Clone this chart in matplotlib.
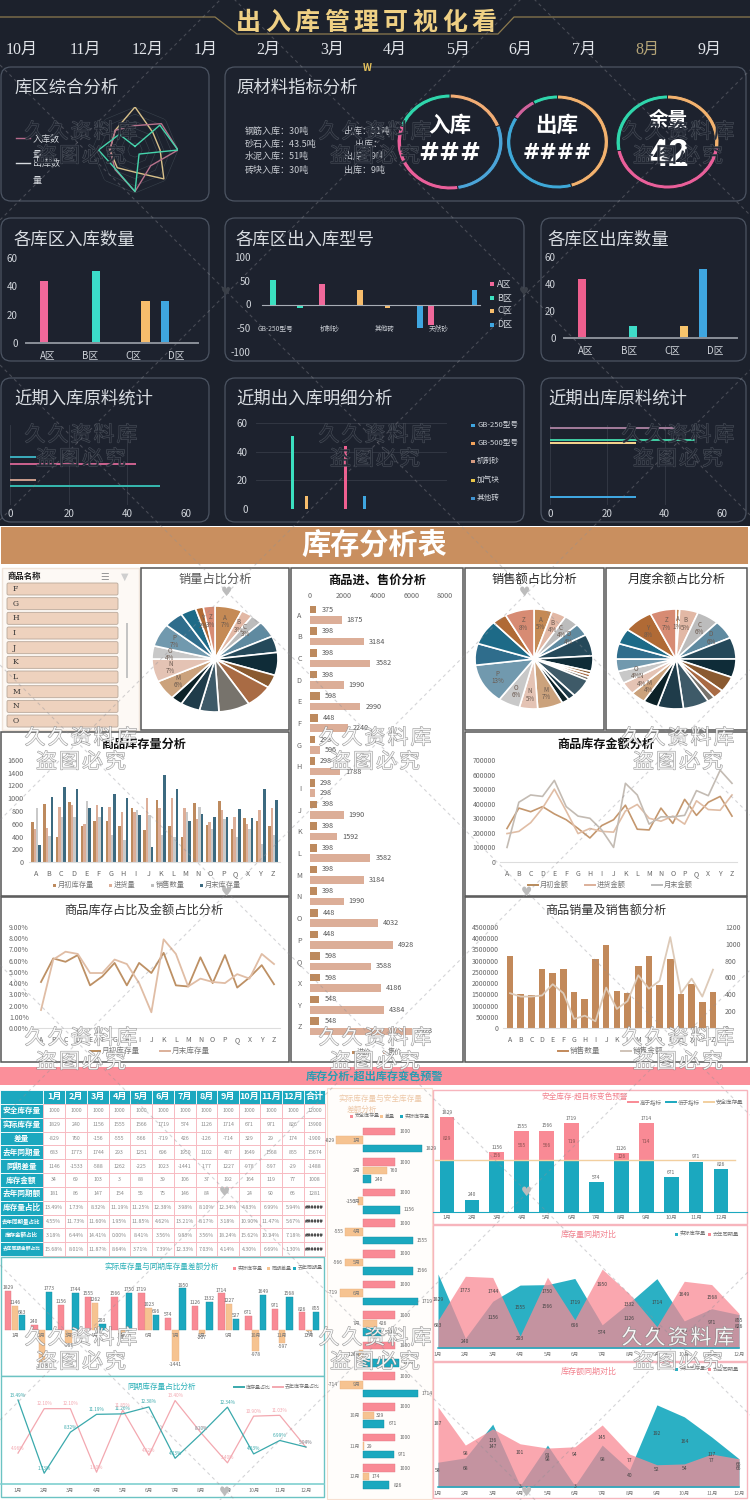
import numpy as np
import matplotlib
matplotlib.use('Agg')
import matplotlib.pyplot as plt
from matplotlib.patches import FancyBboxPatch, Rectangle
import matplotlib.patheffects as pe

plt.rcParams['font.family'] = ['Noto Sans CJK SC', 'DejaVu Sans']
plt.rcParams['axes.unicode_minus'] = False

W, H = 750, 1500
fig = plt.figure(figsize=(7.5, 15), dpi=100, facecolor='white')

# ---------------- data ----------------
months_top = ['10月', '11月', '12月', '1月', '2月', '3月', '4月', '5月', '6月', '7月', '8月', '9月']
areas = ['A区', 'B区', 'C区', 'D区']
radar_teal = [5, 49, 60, 8, 58, 38, 51, 31]
radar_tan = [60, 35, 35, 57, 31, 35, 35, 39]
radar_pink = [34, 52, 60, 31, 58, 39, 35, 39]
ring_in = [30, 43.5, 51, 30]
ring_out = [51, 43, 9, 9]
ring_left = [27, 45, 28]
area_in = [44, 51, 30, 30]
area_out = [44, 9, 9, 51]
model_labels = ['GB-250型号', '', '机制砂', '', '其他砖', '', '天然砂', '']
model_series = [1, 1, 0, 2, 2, 3, 0, 3]
model_values = [51, -8, 43, 30, -8, -50, -43, 30]
recent_in = [9, 43, 9, 51]
recent_out = [44, 51, 30, 30]
recent_detail = [51, 9, 44, 9]
detail_names = ['GB-250型号', 'GB-500型号', '机制砂', '加气块', '其他砖']

goods = list('ABCDEFGHIJKLMNOPQXYZ')
slicer_items = list('FGHIJKLMNO')
pie_sales = [7, 3, 3, 5, 5, 7, 4, 7, 8, 5, 5, 3, 6, 7, 4, 7, 5, 4, 2, 3]
pie_amount = [5, 4, 4, 4, 7, 5, 1, 1, 1, 6, 2, 2, 7, 5, 6, 13, 7, 8, 4, 8]
pie_month = [1, 5, 6, 6, 7, 6, 5, 3, 2, 7, 7, 4, 4, 4, 4, 4, 5, 5, 8, 7]
buy_price = [375, 398, 398, 398, 598, 448, 298, 298, 298, 398, 398, 398, 398, 398, 448, 448, 598, 598, 548, 548]
sell_price = [1875, 3184, 3582, 1990, 2990, 2240, 596, 1788, 298, 1990, 1592, 3582, 3184, 1990, 4032, 4928, 3588, 4186, 4384, 6028]
stock_begin = [620, 910, 400, 940, 560, 650, 640, 560, 850, 500, 980, 560, 400, 930, 580, 960, 520, 690, 640, 570]
stock_inflow = [520, 530, 860, 900, 590, 900, 860, 780, 780, 1000, 840, 1000, 840, 680, 620, 820, 710, 590, 810, 840]
stock_sold = [850, 410, 700, 700, 950, 700, 430, 340, 820, 730, 430, 400, 780, 860, 510, 680, 400, 520, 280, 420]
stock_end = [270, 1020, 1170, 1140, 850, 870, 1060, 1000, 730, 240, 1370, 1150, 640, 760, 710, 700, 830, 690, 1150, 980]
amt_begin = [230000, 370000, 345000, 380000, 330000, 290000, 230000, 165000, 250000, 290000, 390000, 225000, 220000, 370000, 265000, 430000, 320000, 410000, 450000, 315000]
amt_inflow = [195000, 210000, 270000, 370000, 500000, 350000, 195000, 230000, 210000, 205000, 350000, 395000, 300000, 280000, 315000, 260000, 420000, 360000, 355000, 460000]
amt_end = [100000, 410000, 460000, 450000, 560000, 380000, 315000, 300000, 220000, 100000, 540000, 460000, 260000, 310000, 310000, 320000, 490000, 455000, 630000, 540000]
share_begin = [4.1, 6.2, 5.9, 6.5, 3.8, 4.6, 5.8, 3.8, 5.8, 4.9, 6.7, 3.8, 3.7, 6.3, 4.0, 6.5, 3.6, 4.5, 5.6, 3.9]
share_end = [1.6, 6.1, 6.8, 6.6, 4.9, 4.9, 6.1, 5.7, 4.0, 1.4, 7.9, 6.6, 3.7, 4.4, 4.1, 4.0, 4.8, 4.4, 6.6, 5.7]
sold_qty = [860, 400, 390, 700, 650, 700, 430, 340, 820, 990, 440, 410, 740, 860, 510, 820, 400, 520, 310, 425]
sold_amt = [1550000, 1400000, 1400000, 1450000, 1950000, 1550000, 400000, 550000, 300000, 1800000, 850000, 1200000, 2350000, 1750000, 2100000, 4050000, 1550000, 2200000, 1400000, 2600000]

months = ['1月', '2月', '3月', '4月', '5月', '6月', '7月', '8月', '9月', '10月', '11月', '12月']
safe_stock = [1000] * 12
actual_stock = [1829, 240, 1156, 1555, 1566, 1719, 574, 1126, 1714, 671, 971, 826]
diff_stock = [-829, 760, -156, -555, -566, -719, 426, -126, -714, 329, 29, 174]
last_year = [683, 1773, 1744, 293, 1750, 696, 1950, 1332, 527, 1649, 1568, 855]
yoy_diff = [1146, -1533, -589, 1262, -184, 1023, -1441, -207, 1227, -978, -597, -29]
below_target = [1000, 240, 1000, 1000, 1000, 1000, 574, 1000, 1000, 671, 971, 826]
above_target = [829, 0, 156, 555, 566, 719, 0, 126, 714, 0, 0, 0]
share_now = [13.49, 1.73, 8.32, 11.19, 11.26, 12.38, 4.13, 8.10, 12.34, 4.83, 6.99, 5.94]
share_last = [4.96, 12.1, 12.1, 1.9, 11.85, 4.62, 13.4, 8.17, 3.4, 10.9, 11.03, 5.9]
money_now = [58, 68, 147, 3, 98, 3, 98, 40, 192, 164, 117, 66]
money_last = [187, 98, 136, 101, 91, 94, 145, 77, 52, 54, 77, 66]

table_head = ['', '1月', '2月', '3月', '4月', '5月', '6月', '7月', '8月', '9月', '10月', '11月', '12月', '合计']
table_rows = [
    ['安全库存量'] + ['1000'] * 12 + ['12000'],
    ['实际库存量', '1829', '240', '1156', '1555', '1566', '1719', '574', '1126', '1714', '671', '971', '826', '13900'],
    ['差量', '-829', '760', '-156', '-555', '-566', '-719', '426', '-126', '-714', '329', '29', '174', '-1900'],
    ['去年同期量', '683', '1773', '1744', '293', '1251', '696', '1950', '1102', '487', '1649', '1568', '855', '15674'],
    ['同期差量', '1146', '-1533', '-588', '1262', '-225', '1023', '-1441', '-177', '1227', '-978', '-597', '-29', '-1488'],
    ['库存金额', '34', '69', '103', '3', '88', '39', '106', '37', '192', '164', '119', '77', '1008'],
    ['去年同期额', '181', '86', '147', '154', '55', '75', '146', '84', '', '24', '90', '66', '1281'],
    ['库存量占比', '13.49%', '1.73%', '8.32%', '11.19%', '11.25%', '12.38%', '3.98%', '8.10%', '12.34%', '4.83%', '6.99%', '5.94%', '######'],
    ['去年同期量占比', '4.55%', '11.73%', '11.60%', '1.95%', '11.85%', '4.62%', '13.21%', '8.17%', '3.18%', '10.90%', '11.47%', '5.67%', '######'],
    ['库存金额占比', '3.18%', '6.44%', '14.41%', '0.00%', '8.41%', '3.56%', '9.83%', '3.56%', '18.24%', '15.62%', '10.24%', '7.18%', '######'],
    ['去年同期金额占比', '15.68%', '8.01%', '11.87%', '8.64%', '3.71%', '7.39%', '12.33%', '7.03%', '4.14%', '4.30%', '6.69%', '1.30%', '######'],
]

# ---------------- palette ----------------
DARK = '#1c212c'
FG = '#d9dde2'
PINK = '#f0689a'
GREEN = '#3be0c0'
ORANGE = '#f7bd6c'
BLUE = '#3fa6e0'
TAN = '#bd8a5e'
SKIN = '#dcae98'
GREY = '#bdbdbd'
SLATE = '#3c6a80'
TEAL = '#1ba8bf'
ROSE = '#f98a95'
APRI = '#f6c391'
PIE = ['#c58a55', '#e2b8a5', '#bcbcbc', '#5f8aa0', '#25495a', '#0f2c38', '#8a5a30', '#a96b44', '#77736c', '#3e5a68',
       '#1f3c4a', '#0c2228', '#cba27c', '#e4c3b4', '#c8c8c8', '#7199ae', '#2f6d8c', '#1d6a87', '#b06a35', '#d78b73']


def pax(x0, y0, x1, y1, **kw):
    a = fig.add_axes([x0 / W, 1 - y1 / H, (x1 - x0) / W, (y1 - y0) / H], **kw)
    a.patch.set_alpha(0)
    return a


def lim(a, b, p0, v0, p1, v1):
    k = (v1 - v0) / (p1 - p0)
    return v0 + (a - p0) * k, v0 + (b - p0) * k


def clean(a, color='#666666', size=5.5, keep=()):
    for s, sp in a.spines.items():
        sp.set_visible(s in keep)
    a.tick_params(length=0, colors=color, labelsize=size, pad=2)
    a.set_zorder(3)


bg = pax(0, 0, W, H)
bg.set_xlim(0, W)
bg.set_ylim(H, 0)
bg.axis('off')
bg.set_zorder(1)
top = pax(0, 0, W, H)
top.set_xlim(0, W)
top.set_ylim(H, 0)
top.axis('off')
top.set_zorder(10)


def spaced(a, s, cx, y, dx, **kw):
    n = len(s)
    for i, ch in enumerate(s):
        a.text(cx + (i - (n - 1) / 2) * dx, y, ch, ha='center', va='center', **kw)


def legend(items, y, size=4.5, color='#777777', kind='s'):
    for x, label, c in items:
        if kind == 's':
            top.add_patch(Rectangle((x - 5, y - 1.5), 3, 3, color=c, lw=0))
        else:
            top.plot([x - 12, x - 2], [y, y], color=c, lw=1.4)
        top.text(x, y, label, ha='left', va='center', fontsize=size, color=color)


# ---------------- backgrounds ----------------
bg.add_patch(Rectangle((0, 0), W, 526, color=DARK, lw=0))
bg.add_patch(Rectangle((1, 527), 747, 37, color='#c98f5f', lw=0))
bg.text(374, 545, '库存分析表', color='white', fontsize=21, fontweight='bold', ha='center', va='center')
for box in [(1, 67, 209, 201), (225, 67, 746, 201), (1, 218, 209, 361), (225, 218, 524, 361), (541, 218, 746, 361),
            (1, 378, 209, 522), (225, 378, 524, 522), (541, 378, 746, 522)]:
    x0, y0, x1, y1 = box
    bg.add_patch(FancyBboxPatch((x0, y0), x1 - x0, y1 - y0, boxstyle='round,pad=0,rounding_size=10',
                                fc='#1d222e', ec='#4c5462', lw=0.9))
for t, x, y in [('库区综合分析', 14, 88), ('原材料指标分析', 236, 88), ('各库区入库数量', 14, 240), ('各库区出入库型号', 236, 240),
                ('各库区出库数量', 548, 240), ('近期入库原料统计', 14, 399), ('近期出入库明细分析', 236, 399), ('近期出库原料统计', 548, 399)]:
    bg.text(x, y, t, color=FG, fontsize=12.5, ha='left', va='center')

bg.plot([0, 215, 237, 498, 514, 750], [17, 17, 34, 34, 17, 17], color='#8c7a4e', lw=0.9)
spaced(bg, '出入库管理可视化看', 366, 23, 29.5, color='#efd084', fontsize=18, fontweight='bold')
month_x = [22, 85, 148, 206, 268, 332, 395, 458, 520, 584, 647, 709]
for m, x in zip(months_top, month_x):
    bg.text(x, 50, m, color='#b5a578' if m == '8月' else '#e2e5ea', fontsize=11.5, ha='center', va='center',
            family=['Liberation Serif', 'Noto Sans CJK SC'])
bg.text(367, 68, 'W', color='#e5c25c', fontsize=7, fontweight='bold', ha='center', va='center')

# ---------------- radar ----------------
ra = pax(135 - 43, 150 - 43, 135 + 43, 150 + 43, projection='polar')
ra.set_theta_zero_location('N')
ra.set_theta_direction(-1)
theta = np.deg2rad(np.arange(0, 360, 45))
tc = np.append(theta, theta[0])
for r in [10, 20, 30, 40, 50, 60]:
    ra.plot(tc, [r] * 9, color='#39424c', lw=0.4)
for s, c in [(radar_tan, '#d8c08a'), (radar_pink, '#b8728c'), (radar_teal, '#45d4ac')]:
    ra.plot(tc, list(s) + [s[0]], color=c, lw=1.0)
ra.set_ylim(0, 60)
ra.axis('off')
ra.set_zorder(3)
bg.plot([16, 30], [138, 138], color='#b86a8c', lw=1)
bg.plot([16, 30], [163, 163], color='#d7dbe0', lw=1)
for t, x, y in [('入库数', 33, 139), ('量', 33, 155), ('出库数', 33, 163), ('量', 33, 180)]:
    bg.text(x, y, t, color='#d7dbe0', fontsize=6.5, va='center')

# ---------------- raw material text and rings ----------------
lines = [('钢筋入库：30吨', '出库：51吨', 344, 131), ('砂石入库：43.5吨', '出库：', 355, 144),
         ('水泥入库：51吨', '出库：9吨', 344, 156), ('砖块入库：30吨', '出库：9吨', 344, 170)]
for a_, b_, x, y in lines:
    bg.text(245, y, a_, color='#c8ccd2', fontsize=6.5, va='center')
    bg.text(x, y, b_, color='#c8ccd2', fontsize=6.5, va='center')


def ring(cx, cy, rx, ry, vals, cols):
    a = pax(cx - rx, cy - ry, cx + rx, cy + ry)
    a.pie(vals, colors=cols, startangle=90, counterclock=False, radius=1,
          wedgeprops=dict(width=0.085, edgecolor=DARK, linewidth=0.7))
    a.set_aspect('auto')
    a.set_xlim(-1, 1)
    a.set_ylim(-1, 1)
    a.set_zorder(3)


ring(450, 142, 53, 48, ring_in, ['#f2ad75', '#4ba4d8', '#ea5f9a', '#2fd6ac'])
ring(557.5, 142, 51, 47, ring_out, ['#f3b26e', '#3ea8d8', '#d0629c', '#2fd6ac'])
ring(667.5, 142, 51.5, 47, ring_left, ['#f3b26e', '#ea5f9a', '#2fd6ac'])
top.text(450, 125, '入库', color='white', fontsize=15.5, fontweight='bold', ha='center', va='center')
top.text(557, 125, '出库', color='white', fontsize=15.5, fontweight='bold', ha='center', va='center')
top.text(668, 120, '余量', color='white', fontsize=14, fontweight='bold', ha='center', va='center')
top.text(450, 153, '###', color='white', fontsize=18, fontweight='bold', ha='center', va='center', family='DejaVu Sans')
top.text(557, 153, '####', color='white', fontsize=15, fontweight='bold', ha='center', va='center', family='DejaVu Sans')
top.text(668, 156, '42', color='white', fontsize=27, fontweight='bold', ha='center', va='center', family='Liberation Sans')

# ---------------- area bars ----------------
BAR4 = [PINK, GREEN, ORANGE, BLUE]


def area_chart(x0, x1, base, ytop, vals, offs, cols):
    a = pax(x0, ytop - 4, x1, base)
    a.set_ylim(lim(ytop - 4, base, base, 0, ytop, 60)[::-1])
    a.set_xlim(-0.5, 3.5)
    a.bar(np.arange(4) + np.array(offs), vals, width=0.19, color=cols)
    a.set_xticks(range(4), areas)
    a.set_yticks([0, 20, 40, 60])
    clean(a, '#d0d4da', 7, keep=('bottom',))
    a.spines['bottom'].set_color('#8a8f98')
    a.spines['bottom'].set_linewidth(1.4)
    a.tick_params(axis='x', pad=6)
    a.tick_params(axis='y', pad=6)


area_chart(26, 198, 343, 258, area_in, [-0.08, 0.12, 0.28, -0.26], ['#f0689a', '#3bdcc8', '#f7bd6c', '#3fa6e0'])
area_chart(564, 737, 338, 257, area_out, [-0.09, 0.09, 0.28, -0.28], ['#ee5f8e', '#3fdcc8', '#f7c46c', '#3fa6e0'])

mo = pax(262, 257, 480, 352)
mo.set_xlim(-0.5, 7.5)
mo.set_ylim(-100, 100)
series_off = [-0.3, -0.1, 0.1, 0.3]
for i, (s, v) in enumerate(zip(model_series, model_values)):
    mo.bar(i + series_off[s], v, width=0.2, color=[PINK, GREEN, ORANGE, BLUE][s])
    if model_labels[i]:
        mo.text(i, -52, model_labels[i], color='#c8ccd2', fontsize=4.8, ha='center', va='center')
mo.set_xticks([])
mo.set_yticks([-100, -50, 0, 50, 100])
clean(mo, '#d0d4da', 7, keep=('bottom',))
mo.spines['bottom'].set_position(('data', 0))
mo.spines['bottom'].set_color('#a8adb5')
mo.tick_params(axis='y', pad=8)
for n, c, y in zip(areas, BAR4, [284, 298, 311, 325]):
    bg.add_patch(Rectangle((490, y - 2), 4, 4, color=c, lw=0))
    bg.text(497, y, n, color='#d0d4da', fontsize=6.5, va='center')


# ---------------- recent charts ----------------
def recent_h(x0, x1, vals, rows, cols):
    a = pax(x0, 425, x1, 505)
    a.set_xlim(0, 60)
    a.set_ylim(0, 4)
    a.barh(rows, vals, height=0.09, color=cols)
    a.set_xticks([0, 20, 40, 60])
    a.set_yticks([])
    a.grid(axis='x', color='#353b47', lw=0.6)
    a.set_axisbelow(True)
    clean(a, '#d0d4da', 7)
    a.tick_params(axis='x', pad=3)


recent_h(10, 186, recent_in, [2.4, 2.05, 1.25, 0.95], ['#3aa8b8', '#c8608c', '#c79a8a', '#35b5ac'])
recent_h(550, 722, recent_out, [3.85, 3.25, 3.1, 0.4], ['#a07a98', '#3fc8a0', '#f3d28c', '#3fa6e0'])

de = pax(256, 423, 447, 509)
de.set_xlim(0, 4)
de.set_ylim(0, 60)
de.bar([0.77, 1.06, 1.875, 2.27], recent_detail, width=0.06, color=['#3be0c0', '#f7bd6c', '#ef5f90', '#3fa6e0'])
de.set_xticks([])
de.set_yticks([0, 20, 40, 60])
de.grid(axis='y', color='#353b47', lw=0.6)
de.set_axisbelow(True)
clean(de, '#d0d4da', 7)
de.tick_params(axis='y', pad=6)
for n, c, y in zip(detail_names, ['#3fa6e0', '#f2a35c', '#d69b80', '#e8c548', '#3f92d0'], [425, 443, 461, 480, 498]):
    bg.add_patch(Rectangle((471, y - 1.5), 3.5, 3.5, color=c, lw=0))
    bg.text(477, y, n, color='#d0d4da', fontsize=5.5, va='center')

# ---------------- slicer ----------------
bg.add_patch(Rectangle((2, 568), 137, 162, fc='#fdf9f5', ec='#efe4da', lw=1))
bg.text(8, 577, '商品名称', fontsize=6, fontweight='bold', color='#222222', va='center')
bg.text(105, 577, '☰', fontsize=7, color='#999999', ha='center', va='center', family='DejaVu Sans')
bg.text(125, 577, '▼', fontsize=7, color='#cfcfcf', ha='center', va='center', family='DejaVu Sans')
for i, n in enumerate(slicer_items):
    yc = 589 + i * 14.67
    bg.add_patch(FancyBboxPatch((7, yc - 6), 111, 12, boxstyle='round,pad=0,rounding_size=1.5',
                                fc='#eed2be', ec='#b9a89a', lw=0.6))
    bg.text(13, yc, n, fontsize=5.5, va='center', color='#333333', family='DejaVu Serif')
bg.add_patch(Rectangle((126, 623), 1.6, 55, color='#c4c4c4', lw=0))

# ---------------- frames in white section ----------------
for b in [(141, 568, 289, 730), (291, 568, 463, 1062), (465, 568, 604, 730), (606, 568, 747, 730),
          (1, 732, 289, 896), (1, 897, 289, 1062), (465, 732, 747, 896), (465, 897, 747, 1062)]:
    bg.add_patch(Rectangle((b[0], b[1]), b[2] - b[0], b[3] - b[1], fc='white', ec='#555555', lw=1.1))


# ---------------- pies ----------------
def pie_chart(cx, cy, rx, ry, vals, show):
    a = pax(cx - rx, cy - ry, cx + rx, cy + ry)
    labs = [f'{g}\n{v}%' if g in show else '' for g, v in zip(goods, vals)]
    a.pie(vals, colors=PIE, startangle=90, counterclock=False, radius=1, labels=labs, labeldistance=0.72,
          textprops=dict(fontsize=4.5, color='#6b5a50', ha='center', va='center', linespacing=0.9),
          wedgeprops=dict(edgecolor='white', linewidth=1.2))
    a.set_aspect('auto')
    a.set_xlim(-1, 1)
    a.set_ylim(-1, 1)
    a.set_zorder(3)


pie_chart(215, 659, 63, 53, pie_sales, 'ABCZYMNOP')
pie_chart(534, 659, 59, 50, pie_amount, 'ABCDZMNOP')
pie_chart(676, 659, 60, 50, pie_month, 'ABCDZYMNO')
bg.text(215, 579, '销量占比分析', fontsize=8.8, color='#555555', ha='center', va='center')
bg.text(377, 580, '商品进、售价分析', fontsize=8.8, color='#111111', fontweight='bold', ha='center', va='center')
bg.text(534, 579, '销售额占比分析', fontsize=8.8, color='#222222', ha='center', va='center')
bg.text(677, 579, '月度余额占比分析', fontsize=8.8, color='#222222', ha='center', va='center')

# ---------------- price bars ----------------
pr = pax(310, 604, 445, 1037)
pr.set_xlim(0, 8000)
pr.set_ylim(19.5, -0.5)
yy = np.arange(20)
pr.barh(yy - 0.24, buy_price, height=0.35, color=TAN)
pr.barh(yy + 0.24, sell_price, height=0.35, color=SKIN)
for i in range(20):
    pr.text(buy_price[i] + 300, i - 0.24, str(buy_price[i]), fontsize=5.2, color='#555555', va='center')
    pr.text(sell_price[i] + 300, i + 0.24, str(sell_price[i]), fontsize=5.2, color='#555555', va='center')
pr.set_yticks(yy, goods)
pr.set_xticks([0, 2000, 4000, 6000, 8000])
clean(pr, '#666666', 5.2)
pr.tick_params(axis='x', labeltop=True, labelbottom=False, pad=3)
pr.tick_params(axis='y', pad=6)
legend([(357, '进价', TAN), (388, '售价', SKIN)], 1052, 5.2)

# ---------------- stock bars ----------------
sb = pax(29, 760, 280, 862)
sb.set_xlim(lim(29, 280, 36, 0, 273, 19))
sb.set_ylim(0, 1600)
x = np.arange(20)
for off, vals, c in [(-0.3, stock_begin, TAN), (-0.1, stock_inflow, SKIN), (0.1, stock_sold, '#c9c9c9'), (0.3, stock_end, SLATE)]:
    sb.bar(x + off, vals, width=0.2, color=c)
sb.set_xticks(x, goods)
sb.set_yticks(range(0, 1601, 200))
clean(sb, '#666666', 5.2, keep=('bottom',))
sb.spines['bottom'].set_color('#dddddd')
sb.tick_params(axis='x', pad=6)
sb.tick_params(axis='y', pad=4)
bg.text(144, 744, '商品库存量分析', fontsize=8.7, fontweight='bold', color='#111111', ha='center', va='center')
legend([(58, '月初库存量', TAN), (114, '进货量', SKIN), (156, '销售数量', GREY), (205, '月末库存量', SLATE)], 885, 5.2)

# ---------------- amount lines ----------------
al = pax(500, 760, 737, 862)
al.set_xlim(lim(500, 737, 507, 0, 732, 19))
al.set_ylim(0, 700000)
al.plot(x, amt_begin, color='#c4976e', lw=1.2)
al.plot(x, amt_inflow, color='#e0bda5', lw=1.2)
al.plot(x, amt_end, color='#c3bbb3', lw=1.2)
al.set_xticks(x, goods)
al.set_yticks(range(0, 700001, 100000))
clean(al, '#666666', 5, keep=('bottom',))
al.spines['bottom'].set_color('#dddddd')
al.tick_params(axis='x', pad=6)
al.tick_params(axis='y', pad=3)
bg.text(606, 744, '商品库存金额分析', fontsize=8.7, fontweight='bold', color='#111111', ha='center', va='center')
legend([(540, '月初金额', '#b98a5a'), (597, '进货金额', '#dcb09a'), (664, '月末金额', '#bbbbbb')], 885, 5.2, kind='l')

# ---------------- share lines ----------------
sl = pax(33, 927, 280, 1028)
sl.set_xlim(lim(33, 280, 41, 0, 274, 19))
sl.set_ylim(0, 9)
sl.plot(x, share_begin, color='#bd9064', lw=1.3)
sl.plot(x, share_end, color='#e0bda5', lw=1.3)
sl.set_xticks(x, goods)
sl.set_yticks(range(0, 10), [f'{v}.00%' for v in range(0, 10)])
clean(sl, '#666666', 5, keep=('bottom',))
sl.spines['bottom'].set_color('#dddddd')
sl.tick_params(axis='x', pad=6)
sl.tick_params(axis='y', pad=3)
bg.text(144, 910, '商品库存占比及金额占比分析', fontsize=8.8, color='#333333', ha='center', va='center')
legend([(102, '月初库存量', '#b98a5a'), (172, '月末库存量', '#dcb09a')], 1051, 5.5, kind='l')

# ---------------- sales combo ----------------
sc = pax(503, 927, 718, 1028)
sc.set_xlim(lim(503, 718, 510, 0, 713, 19))
sc.set_ylim(0, 4500000)
left_ticks = list(range(0, 4500001, 500000))
sc.set_yticks(left_ticks, [str(v) for v in left_ticks])
sc.set_xticks(x, goods)
sc.plot(x, sold_amt, color='#ddcab8', lw=1.3, zorder=4)
clean(sc, '#666666', 5, keep=('bottom',))
sc.spines['bottom'].set_color('#dddddd')
sc.tick_params(axis='x', pad=6)
sc.tick_params(axis='y', pad=3)
sr = sc.twinx()
sr.set_ylim(0, 1200)
sr.bar(x, sold_qty, width=0.62, color='#c2895a', zorder=1)
sr.set_yticks(range(0, 1201, 200))
for s in sr.spines.values():
    s.set_visible(False)
sr.tick_params(length=0, colors='#666666', labelsize=5, pad=5)
sr.set_zorder(2)
sc.set_zorder(4)
bg.text(606, 910, '商品销量及销售额分析', fontsize=8.7, color='#333333', ha='center', va='center')
legend([(570, '销售数量', '#c2895a'), (633, '销售金额', '#cfc3b8')], 1051, 5.5, kind='l')

# ---------------- pink banner ----------------
bg.add_patch(Rectangle((0, 1067), W, 18, color='#fb8f9a', lw=0))
bg.text(374, 1076, '库存分析-超出库存变色预警', color='#2a9db2', fontsize=8, fontweight='bold', ha='center', va='center')

# ---------------- table ----------------
col_x = [0, 43, 65, 87, 109, 130, 152, 174, 196, 217, 239, 260, 282, 304, 325]
row_h = (1256 - 1090) / 12
for r in range(12):
    yt = 1090 + r * row_h
    vals = table_head if r == 0 else table_rows[r - 1]
    for c in range(14):
        x0_, x1_ = col_x[c], col_x[c + 1]
        head = r == 0 or c == 0
        bg.add_patch(Rectangle((x0_, yt), x1_ - x0_, row_h, fc=TEAL if head else 'white', ec='#f7b5bd' if not head else 'white', lw=0.6))
        if head:
            size = 6.5 if r == 0 else (5.5 if len(vals[c]) <= 5 else (4 if len(vals[c]) <= 7 else 3.4))
            bg.text((x0_ + x1_) / 2, yt + row_h / 2, vals[c], color='white', fontsize=size, fontweight='bold', ha='center', va='center')
        else:
            isb = vals[c].startswith('#')
            bg.text((x0_ + x1_) / 2, yt + row_h / 2, vals[c], color='#333333' if isb else '#8a8a8a', fontsize=3.8,
                    fontweight='bold' if isb else 'normal', ha='center', va='center')

# ---------------- frames bottom ----------------
bg.add_patch(Rectangle((1, 1257), 323, 119, fc='white', ec='#6cc3c3', lw=1))
bg.add_patch(Rectangle((1, 1376), 323, 121, fc='white', ec='#6cc3c3', lw=1))
bg.add_patch(Rectangle((327, 1088), 105, 411, fc='#fffdfb', ec='#f7dfd0', lw=0.8))
for b in [(433, 1090, 747, 1224), (433, 1225, 747, 1361), (433, 1362, 747, 1498)]:
    bg.add_patch(Rectangle((b[0], b[1]), b[2] - b[0], b[3] - b[1], fc='white', ec='#f7b5bd', lw=1))

# ---------------- diff horizontal bars ----------------
hb = pax(326, 1120, 433, 1495)
hb.set_xlim(lim(326, 433, 363, 0, 395, 1000))
hb.set_ylim(lim(1495, 1120, 1140, 0, 1476.6, 11))
mm = np.arange(12)
hb.barh(mm - 0.28, safe_stock, height=0.25, color=ROSE, edgecolor='#e07a85', lw=0.3)
hb.barh(mm, diff_stock, height=0.25, color=APRI, edgecolor='#e8b080', lw=0.3)
hb.barh(mm + 0.28, actual_stock, height=0.25, color=TEAL, edgecolor='#148ca0', lw=0.3)
for i in range(12):
    hb.text(1150, i - 0.28, str(safe_stock[i]), fontsize=3.6, color='#666666', va='center')
    hb.text(actual_stock[i] + 120, i + 0.28, str(actual_stock[i]), fontsize=3.6, color='#666666', va='center')
    d = diff_stock[i]
    if d < 0:
        hb.text(d - 60, i, str(d), fontsize=3.6, color='#666666', va='center', ha='right')
        hb.text(-70, i, months[i], fontsize=3.6, color='#777777', va='center', ha='right')
    else:
        hb.text(d + 80, i, str(d), fontsize=3.6, color='#666666', va='center')
        hb.text(-80, i, months[i], fontsize=3.6, color='#777777', va='center', ha='right')
hb.set_xticks([])
hb.set_yticks([])
clean(hb)
bg.text(380, 1099, '实际库存量与安全库存量', fontsize=5.5, color='#edc8a8', ha='center', va='center')
bg.text(362, 1110, '差额分析', fontsize=5.5, color='#edc8a8', ha='center', va='center')
legend([(355, '安全库存量', ROSE), (385, '差量', APRI), (405, '实际库存量', TEAL)], 1116, 3.6)

# ---------------- yoy bars ----------------
yb = pax(1, 1275, 324, 1370)
yb.set_xlim(lim(1, 324, 15, 0, 309, 11))
yb.set_ylim(lim(1370, 1275, 1330, 0, 1291, 1829))
yb.bar(mm - 0.27, actual_stock, width=0.24, color=ROSE, edgecolor='#e07a85', lw=0.3)
yb.bar(mm, yoy_diff, width=0.24, color=APRI, edgecolor='#e8b080', lw=0.3)
yb.bar(mm + 0.27, last_year, width=0.24, color=TEAL, edgecolor='#148ca0', lw=0.3)
for i in range(12):
    yb.text(i - 0.27, actual_stock[i] + 40, str(actual_stock[i]), fontsize=3.6, color='#666666', ha='center', va='bottom')
    yb.text(i + 0.27, last_year[i] + 40, str(last_year[i]), fontsize=3.6, color='#666666', ha='center', va='bottom')
    d = yoy_diff[i]
    yb.text(i, d + (40 if d > 0 else -40), str(d), fontsize=3.6, color='#666666', ha='center', va='bottom' if d > 0 else 'top')
    yb.text(i, -235, months[i], fontsize=3.6, color='#777777', ha='center', va='center')
yb.set_xticks([])
yb.set_yticks([])
clean(yb)
bg.text(162, 1267, '实际库存量与同期库存量差额分析', fontsize=5.5, color='#2ab0b8', ha='center', va='center')
legend([(238, '实际库存量', ROSE), (272, '同期差量', APRI), (298, '去年同期量', TEAL)], 1268, 3.6)

# ---------------- share lines bottom ----------------
ls = pax(1, 1395, 324, 1484)
ls.set_xlim(lim(1, 324, 18, 0, 306, 11))
ls.set_ylim(lim(1484, 1395, 1484, 0, 1400, 13.49))
ls.plot(mm, share_last, color='#f3a8b0', lw=0.9)
ls.plot(mm, share_now, color='#3aa9ac', lw=0.9)
for i in range(12):
    ls.text(i, share_now[i] + 0.4, f'{share_now[i]:.2f}%', fontsize=3.4, color='#3aa9ac', ha='center', va='bottom')
    ls.text(i, share_last[i] + 0.4, f'{share_last[i]:.2f}%', fontsize=3.4, color='#f3a8b0', ha='center', va='bottom')
ls.set_xticks(mm, months)
ls.set_yticks([])
clean(ls, '#777777', 3.8, keep=('bottom',))
ls.spines['bottom'].set_color('#7fd0d0')
ls.spines['bottom'].set_linewidth(1.2)
ls.tick_params(axis='x', pad=3)
bg.text(162, 1387, '同期库存量占比分析', fontsize=5.5, color='#2ab0b8', ha='center', va='center')
legend([(246, '库存量占比', '#3aa9ac'), (285, '去年库存量占比', '#f3a8b0')], 1387, 3.6, kind='l')

# ---------------- safety stacked ----------------
st = pax(433, 1110, 747, 1212)
st.set_xlim(lim(433, 747, 447, 0, 721, 11))
st.set_ylim(lim(1212, 1110, 1212, 0, 1160, 1000))
st.bar(mm, below_target, width=0.59, color=TEAL)
st.bar(mm, above_target, bottom=below_target, width=0.59, color=ROSE)
st.plot([-0.5, 11.55], [safe_stock[0], safe_stock[-1]], color='#f2cf9f', lw=1)
for i in range(12):
    st.text(i, actual_stock[i] + 40, str(actual_stock[i]), fontsize=3.6, color='#666666', ha='center', va='bottom')
    if above_target[i]:
        st.text(i, below_target[i] + above_target[i] / 2, str(above_target[i]), fontsize=3.6, color='#8a5050', ha='center', va='center')
st.set_xticks(mm, months)
st.set_yticks([])
clean(st, '#777777', 4, keep=('bottom',))
st.spines['bottom'].set_color(TEAL)
bg.text(585, 1098, '安全库存-超目标变色预警', fontsize=5.5, color='#f2828f', ha='center', va='center')
legend([(640, '高于指标', ROSE), (678, '低于指标', TEAL), (716, '安全库存量', '#f2cf9f')], 1102, 4, kind='l')


# ---------------- area charts ----------------
def area(y_base, ytop, ref_val, s1, s2, title, title_y, leg_y):
    a = pax(438, ytop, 739, y_base)
    a.set_xlim(0, 11)
    a.set_ylim(lim(y_base, ytop, y_base, 0, y_base - 74, ref_val))
    a.fill_between(mm, 0, s1, color='#2bb0c4', lw=0)
    a.fill_between(mm, 0, s2, color=ROSE, alpha=0.75, lw=0)
    for i in range(12):
        a.text(i, s1[i] * 0.65, str(s1[i]), fontsize=3.6, color='#444444', ha='center', va='center')
        a.text(i, s2[i] * 0.8, str(s2[i]), fontsize=3.6, color='#444444', ha='center', va='center')
    a.set_xticks(mm, months)
    a.set_yticks([])
    clean(a, '#777777', 3.8, keep=('bottom',))
    a.spines['bottom'].set_color(TEAL)
    a.spines['bottom'].set_linewidth(1.1)
    a.tick_params(axis='x', pad=3)
    bg.text(589, title_y, title, fontsize=5.8, color='#f2828f', ha='center', va='center')
    legend([(680, '实际库存量', '#2bb0c4'), (713, '去年同期量', ROSE)], leg_y, 3.8)


area(1348, 1240, 1829, actual_stock, last_year, '库存量同期对比', 1234, 1234)
area(1487, 1375, 173, money_now, money_last, '库存额同期对比', 1371, 1369)

# ---------------- diagonal dashes, hearts, watermark ----------------
xs = np.array([0, 750])
for c in np.arange(-535, 1500, 300):
    top.plot(xs, xs + c, color='#8f8f96', alpha=0.38, lw=0.8, ls=(0, (3, 3)))
for d in np.arange(220, 2300, 300):
    top.plot(xs, d - xs, color='#8f8f96', alpha=0.38, lw=0.8, ls=(0, (3, 3)))
top.set_xlim(0, W)
top.set_ylim(H, 0)
for hx, hy in [(226, 592), (525, 592), (226, 893), (526, 893), (225, 1193), (527, 1193), (225, 1492), (526, 1492)]:
    top.text(hx, hy, '♥', fontsize=9, color='#bcbcbc', ha='center', va='center', family='DejaVu Sans')
for hx, hy in [(226, 292), (524, 292)]:
    top.text(hx, hy, '♥', fontsize=8, color='#3a3f48', ha='center', va='center', family='DejaVu Sans')

for cy, dark in [(132, True), (435, True), (738, False), (1038, False), (1338, False)]:
    for cx in (81, 375, 678):
        fill = '#1f2430' if dark else 'white'
        edge = '#565c66' if dark else '#7a7a7a'
        effects = [pe.withStroke(linewidth=0.7, foreground=edge)]
        spaced(top, '久久资料库', cx, cy, 23, fontsize=15, color=fill, alpha=0.8, path_effects=effects)
        spaced(top, '盗图必究', cx, cy + 24, 23, fontsize=15, color=fill, alpha=0.8, path_effects=effects)

fig.savefig('out.png', dpi=100)
